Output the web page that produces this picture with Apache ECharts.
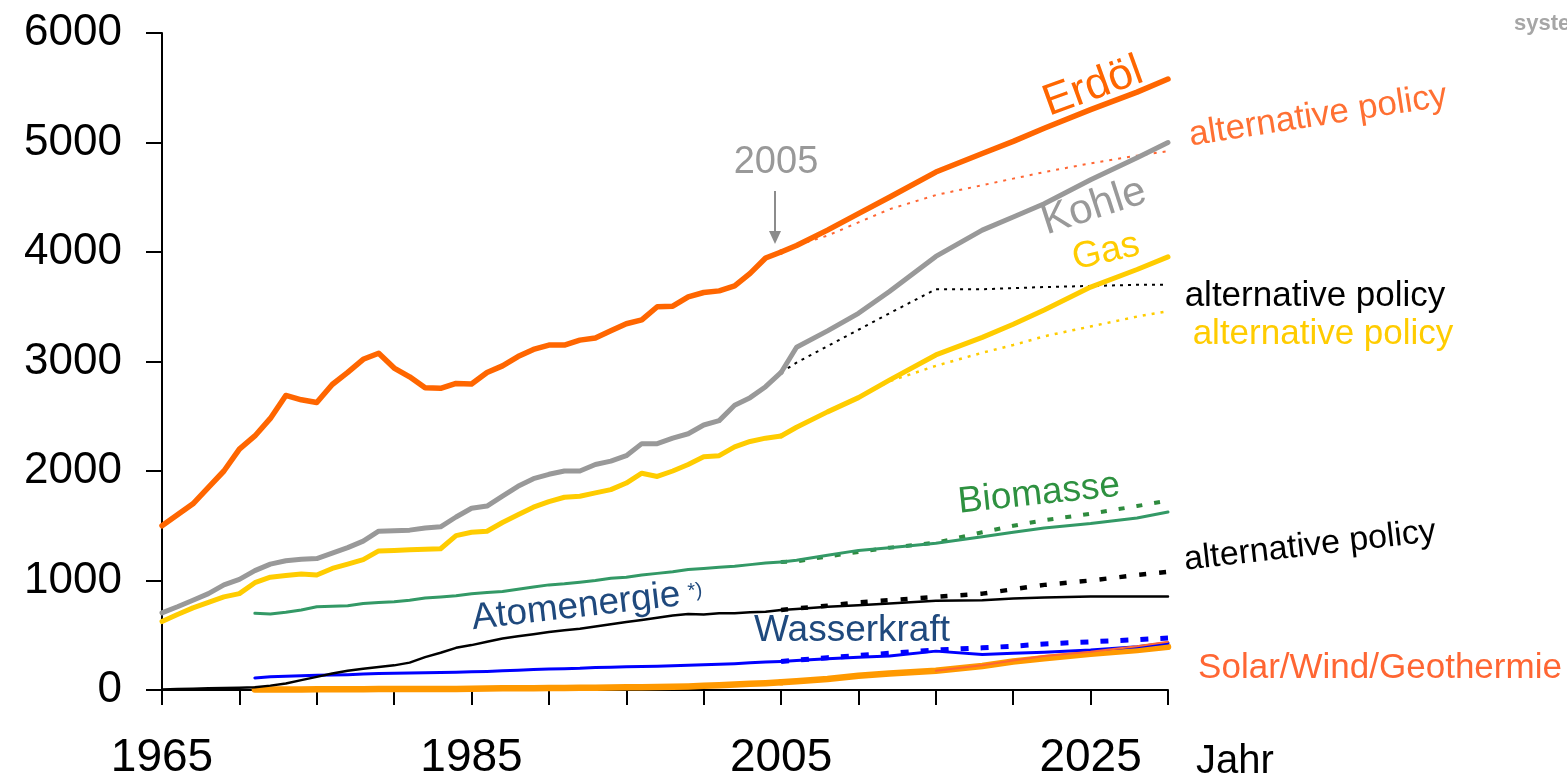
<!DOCTYPE html>
<html>
<head>
<meta charset="utf-8">
<title>Weltenergieverbrauch</title>
<script src="https://cdn.jsdelivr.net/npm/echarts@6/dist/echarts.min.js"></script>
<style>
    html, body { margin: 0; padding: 0; background: #fff; }
    #chart { width: 1567px; height: 782px; }
</style>
</head>
<body>
<div id="chart"></div>
<script>
// Jahre (historisch 1965-2005, Prognose 2005-2030)
var histJahre = [1965, 1966, 1967, 1968, 1969, 1970, 1971, 1972, 1973, 1974,
    1975, 1976, 1977, 1978, 1979, 1980, 1981, 1982, 1983, 1984,
    1985, 1986, 1987, 1988, 1989, 1990, 1991, 1992, 1993, 1994,
    1995, 1996, 1997, 1998, 1999, 2000, 2001, 2002, 2003, 2004, 2005];
var progJahre = [2005, 2006, 2008, 2010, 2012, 2015, 2018, 2020, 2022, 2025, 2028, 2030];

// Achsenbeschriftung
var yTicks = [0, 1000, 2000, 3000, 4000, 5000, 6000];
var xBeschriftung = [1965, 1985, 2005, 2025];

// Erdöl
var erdoelHist = [1500, 1600, 1700, 1850, 2000, 2200, 2320, 2480, 2690, 2650,
    2625, 2790, 2900, 3020, 3075, 2940, 2860, 2760, 2755, 2800,
    2795, 2900, 2960, 3045, 3110, 3150, 3150, 3195, 3215, 3280,
    3345, 3380, 3500, 3505, 3590, 3630, 3645, 3690, 3805, 3945, 4000];
var erdoelProg = [4000, 4060, 4200, 4350, 4500, 4730, 4900, 5010, 5130, 5300, 5460, 5580];
var erdoelAlt = [4000, 4060, 4150, 4270, 4390, 4520, 4610, 4670, 4730, 4810, 4880, 4920];

// Kohle
var kohleHist = [705, 760, 820, 880, 960, 1010, 1090, 1150, 1180, 1195,
    1200, 1250, 1300, 1360, 1450, 1455, 1460, 1480, 1490, 1580,
    1660, 1680, 1770, 1860, 1930, 1970, 2000, 2000, 2060, 2090,
    2140, 2250, 2250, 2300, 2340, 2420, 2460, 2600, 2670, 2770, 2900];
var kohleProg = [2900, 3130, 3280, 3440, 3640, 3960, 4200, 4320, 4440, 4660, 4860, 5000];
var kohleAlt = [2900, 2990, 3140, 3290, 3440, 3660, 3660, 3670, 3680, 3690, 3700, 3700];

// Gas
var gasHist = [625, 690, 750, 800, 850, 880, 980, 1030, 1045, 1060,
    1050, 1110, 1150, 1190, 1270, 1275, 1280, 1285, 1290, 1410,
    1440, 1450, 1530, 1600, 1670, 1720, 1760, 1770, 1800, 1830,
    1890, 1980, 1950, 2000, 2060, 2130, 2140, 2220, 2270, 2300, 2320];
var gasProg = [2320, 2400, 2540, 2670, 2830, 3060, 3220, 3340, 3470, 3680, 3840, 3955];
var gasAlt = [null, null, null, 2670, 2820, 2960, 3080, 3150, 3230, 3320, 3410, 3460];

// Biomasse
var bioHist = [null, null, null, null, null, null, 700, 695, 710, 730,
    760, 765, 770, 790, 800, 805, 820, 840, 850, 860,
    880, 890, 900, 920, 940, 960, 970, 985, 1000, 1020,
    1030, 1050, 1065, 1080, 1100, 1110, 1120, 1130, 1145, 1160, 1170];
var bioProg = [1170, 1185, 1230, 1275, 1300, 1340, 1400, 1440, 1480, 1520, 1570, 1625];
var bioAlt = [1170, 1175, 1220, 1260, 1300, 1345, 1440, 1500, 1550, 1610, 1680, 1730];

// Atomenergie
var atomHist = [5, 10, 12, 15, 18, 20, 25, 40, 60, 90,
    120, 150, 175, 195, 210, 225, 250, 300, 340, 385,
    410, 440, 470, 490, 510, 530, 545, 560, 580, 600,
    620, 640, 660, 680, 695, 690, 700, 700, 710, 715, 730];
var atomProg = [730, 740, 760, 775, 790, 815, 820, 835, 845, 855, 855, 855];
var atomAlt = [730, 745, 770, 800, 820, 850, 880, 920, 960, 1000, 1050, 1080];

// Wasserkraft
var wasserHist = [null, null, null, null, null, null, 110, 120, 125, 130,
    135, 138, 140, 145, 150, 152, 155, 158, 160, 163,
    167, 170, 175, 180, 188, 192, 195, 198, 205, 208,
    212, 215, 218, 222, 225, 230, 235, 240, 248, 255, 260];
var wasserProg = [260, 270, 285, 300, 310, 355, 325, 335, 345, 365, 395, 430];
var wasserAlt = [260, 272, 295, 315, 335, 365, 385, 400, 420, 440, 460, 475];

// Solar/Wind/Geothermie
var solarHist = [null, null, null, null, null, null, 5, 5, 5, 5,
    6, 6, 7, 7, 8, 8, 9, 9, 10, 10,
    12, 14, 15, 16, 17, 18, 19, 20, 21, 22,
    24, 26, 28, 30, 33, 38, 44, 50, 56, 62, 70];
var solarProg = [70, 80, 100, 130, 150, 175, 220, 260, 290, 330, 365, 395];
var solarAlt = [null, null, null, null, null, 175, 225, 270, 310, 350, 400, 440];

var FONT = '"Liberation Sans", Arial, sans-serif';

// Jahr + Wert zusammenführen
function paare(jahre, werte) {
    var out = [];
    for (var i = 0; i < jahre.length; i++) {
        out.push([jahre[i], werte[i]]);
    }
    return out;
}

function linie(jahre, werte, farbe, breite, strich, z) {
    return {
        type: 'line',
        data: paare(jahre, werte),
        showSymbol: false,
        symbol: 'none',
        connectNulls: false,
        silent: true,
        z: z || 2,
        lineStyle: {
            color: farbe,
            width: breite,
            type: strich || 'solid',
            cap: strich ? 'butt' : 'round',
            join: 'round'
        }
    };
}

function text(x, y, inhalt, farbe, groesse, winkel, align) {
    return {
        type: 'text',
        x: x,
        y: y,
        rotation: (winkel || 0) * Math.PI / 180,
        z: 100,
        style: {
            text: inhalt,
            fill: farbe,
            font: groesse + 'px ' + FONT,
            align: align || 'center',
            verticalAlign: 'middle'
        }
    };
}

var chart = echarts.init(document.getElementById('chart'));

var option = {
    backgroundColor: '#fff',
    animation: false,
    grid: { left: 162, right: 399, top: 33, bottom: 92, containLabel: false },
    xAxis: {
        type: 'value',
        min: 1965,
        max: 2030,
        interval: 5,
        axisLine: { show: true, lineStyle: { color: '#000', width: 2 } },
        axisTick: { show: true, length: 15, lineStyle: { color: '#000', width: 2 } },
        splitLine: { show: false },
        axisLabel: {
            margin: 45,
            fontSize: 46,
            fontFamily: FONT,
            color: '#000',
            formatter: function (v) {
                return xBeschriftung.indexOf(v) >= 0 ? String(v) : '';
            }
        }
    },
    yAxis: {
        type: 'value',
        min: yTicks[0],
        max: yTicks[yTicks.length - 1],
        interval: 1000,
        axisLine: { show: true, lineStyle: { color: '#000', width: 2 } },
        axisTick: { show: true, length: 16, lineStyle: { color: '#000', width: 2 } },
        splitLine: { show: false },
        axisLabel: {
            margin: 40,
            fontSize: 44,
            fontFamily: FONT,
            color: '#000',
            formatter: function (v) {
                return String(v);
            }
        }
    },
    series: [
        // alternative policy
        linie(progJahre, erdoelAlt, '#FF6633', 2, [3, 6]),
        linie(progJahre, kohleAlt, '#000', 2, [3, 5]),
        linie(progJahre, gasAlt, '#FFCC00', 2.5, [3, 6]),
        linie(progJahre, bioAlt, '#2E8B3E', 4, [6, 12]),
        linie(progJahre, atomAlt, '#000', 4.5, [7, 13]),
        linie(progJahre, wasserAlt, '#0000FF', 5, [8, 12]),
        // Verlauf + Referenzszenario
        linie(histJahre, solarHist, '#FF9900', 6.5),
        linie(progJahre, solarProg, '#FF9900', 6.5),
        linie(progJahre, solarAlt, '#FF6633', 2, null, 3),
        linie(histJahre, wasserHist, '#0000FF', 3),
        linie(progJahre, wasserProg, '#0000FF', 3),
        linie(histJahre, atomHist, '#000', 2.5),
        linie(progJahre, atomProg, '#000', 2.5),
        linie(histJahre, bioHist, '#339966', 3),
        linie(progJahre, bioProg, '#339966', 3),
        linie(histJahre, gasHist, '#FFCC00', 5),
        linie(progJahre, gasProg, '#FFCC00', 5),
        linie(histJahre, kohleHist, '#999999', 5),
        linie(progJahre, kohleProg, '#999999', 5),
        linie(histJahre, erdoelHist, '#FF6600', 5.5),
        linie(progJahre, erdoelProg, '#FF6600', 5.5)
    ],
    graphic: [
        text(1093, 87, 'Erdöl', '#FF6600', 44, 20),
        text(1318, 116, 'alternative policy', '#FF7033', 35, 8.8),
        text(776, 163, '2005', '#999999', 38, 0),
        {
            type: 'line',
            z: 100,
            shape: { x1: 775, y1: 191, x2: 775, y2: 233 },
            style: { stroke: '#8C8C8C', lineWidth: 2 }
        },
        {
            type: 'polygon',
            z: 100,
            shape: { points: [[769, 231], [781, 231], [775, 244]] },
            style: { fill: '#8C8C8C' }
        },
        text(1094, 207, 'Kohle', '#999999', 42, 18),
        text(1106, 252, 'Gas', '#FFCC00', 37, 13),
        text(1315, 296, 'alternative policy', '#000', 35, 0),
        text(1323, 334, 'alternative policy', '#FFCC00', 35, 0),
        text(1039, 494, 'Biomasse', '#2E9140', 37, 6),
        text(1310, 546, 'alternative policy', '#000', 34, 6.5),
        text(576, 607, 'Atomenergie', '#1F497D', 37, 6.6),
        text(695, 591, '*)', '#1F497D', 20, 6.6),
        text(852, 631, 'Wasserkraft', '#1F497D', 37, 0),
        text(1380, 668, 'Solar/Wind/Geothermie', '#FF6633', 35, 0),
        text(1196, 762, 'Jahr', '#000', 40, 0, 'left'),
        {
            type: 'text',
            x: 1514,
            y: 24,
            z: 100,
            style: {
                text: 'system',
                fill: '#A6A6A6',
                font: 'bold 22px ' + FONT,
                align: 'left',
                verticalAlign: 'middle'
            }
        }
    ]
};

chart.setOption(option);
</script>
</body>
</html>
